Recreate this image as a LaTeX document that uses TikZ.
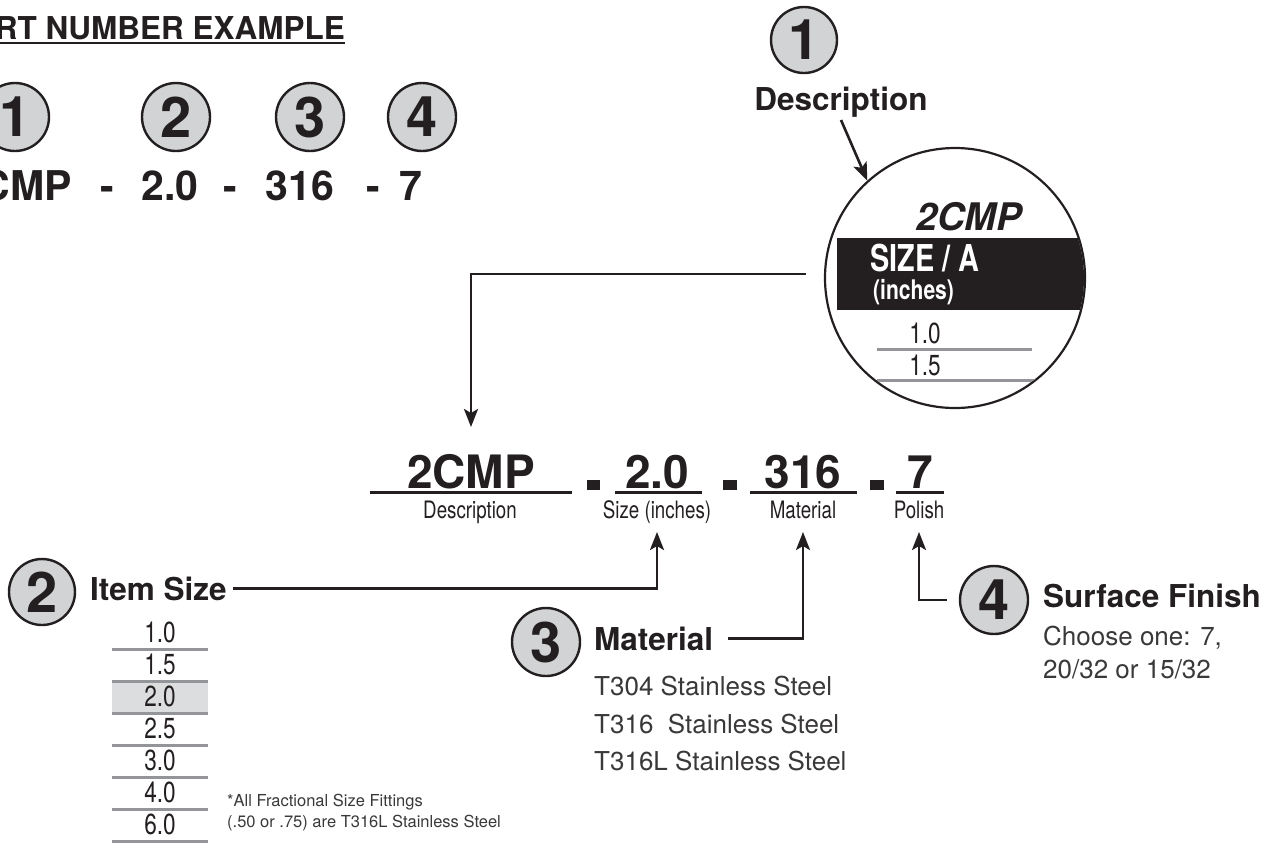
\documentclass[tikz,border=0pt]{standalone}
\usepackage{fontspec}
\setmainfont{TeX Gyre Heros}
\newfontfamily\condfont[FakeStretch=0.78]{TeX Gyre Heros}
\usetikzlibrary{arrows.meta}

\definecolor{ink}{HTML}{231F20}
\definecolor{dotgray}{HTML}{D1D3D4}
\definecolor{rulegray}{HTML}{939598}
\definecolor{pickgray}{HTML}{DCDDDE}
\definecolor{softink}{HTML}{3A3839}

\tikzset{
  num/.style={circle, draw=ink, line width=2.4pt, fill=dotgray, minimum size=68pt, inner sep=0pt,
    font=\bfseries\fontsize{56}{56}\selectfont},
  lbl/.style={inner sep=0pt, font=\bfseries\fontsize{31.5}{34}\selectfont},
  code/.style={inner sep=0pt, anchor=base, font=\bfseries\fontsize{41}{44}\selectfont},
  bigcode/.style={inner sep=0pt, anchor=base, font=\bfseries\fontsize{46}{48}\selectfont},
  cond/.style={inner sep=0pt, anchor=base, font=\condfont\fontsize{24}{26}\selectfont},
  light/.style={inner sep=0pt, anchor=base west, text=softink, font=\fontsize{26}{30}\selectfont},
  conn/.style={line width=2.6pt},
  arr/.style={-{Stealth[length=18pt,width=14pt,inset=4pt]}},
  uline/.style={line width=3pt},
  grayrule/.style={draw=rulegray, line width=3pt}
}

\begin{document}
\begin{tikzpicture}[x=1pt, y=-1pt, color=ink]
\useasboundingbox (0,0) rectangle (1276,863);
\clip (0,0) rectangle (1276,863);

% heading
\node[lbl, anchor=base east] (title) at (345,39) {PART NUMBER EXAMPLE};
\draw[line width=2pt] ([yshift=-3.5pt]title.base west) -- ([yshift=-3.5pt]title.base east);

% example row
\node[num] (t1) at (15,117) {1};
\node[num] (t2) at (176,117) {2};
\node[num] (t3) at (310,117) {3};
\node[num] (t4) at (422,117) {4};
\node[code, anchor=base east] (e1) at (72,200) {2CMP};
\node[code] (h1) at (107,200) {-};
\node[code] (e2) at (170,200) {2.0};
\node[code] (h2) at (230,200) {-};
\node[code] (e3) at (300,200) {316};
\node[code] (h3) at (373,200) {-};
\node[code] (e4) at (411,200) {7};

% description
\node[num, minimum size=66pt] (d1) at (804,40) {1};
\node[lbl, anchor=base] (desc) at (841,110) {Description};
\node[circle, draw, line width=2.2pt, minimum size=260pt, inner sep=0pt] (zoom) at (955,278) {};
\draw[conn, arr] ([yshift=-10pt]desc.base) -- (zoom.132);
\begin{scope}
  \clip (955,278) circle (129pt);
  \fill[ink] (837,238) rectangle (1100,310);
  \draw[grayrule] (877,349) -- (1032,349);
  \draw[grayrule] (877,380) -- (1100,380);
\end{scope}
\node[inner sep=0pt, anchor=base east, font=\bfseries\itshape\fontsize{38}{40}\selectfont] (zcode) at (1022,230) {2CMP};
\node[inner sep=0pt, anchor=base west, text=white, font=\condfont\bfseries\fontsize{37}{40}\selectfont] (zsize) at (870,271) {SIZE / A};
\node[inner sep=0pt, anchor=base west, text=white, font=\condfont\bfseries\fontsize{27}{30}\selectfont] (zinch) at (873,299) {(inches)};
\node[cond, font=\condfont\fontsize{29}{30}\selectfont] (z1) at (925,343) {1.0};
\node[cond, font=\condfont\fontsize{29}{30}\selectfont] (z2) at (925,375) {1.5};

% part number
\node[bigcode] (pdesc) at (471,488) {2CMP};
\draw[uline] (370,492) -- (572,492);
\node[cond] (tdesc) at (470,518) {Description};
\fill (587,480) rectangle (600,490);
\node[bigcode] (psize) at (657,488) {2.0};
\draw[uline] (615,492) -- (702,492);
\node[cond] (tsize) at (657,518) {Size (inches)};
\fill (723,480) rectangle (737,490);
\node[bigcode] (pmat) at (803,488) {316};
\draw[uline] (750,492) -- (857,492);
\node[cond] (tmat) at (803,518) {Material};
\fill (870,480) rectangle (884,490);
\node[bigcode] (ppol) at (920,488) {7};
\draw[uline] (896,492) -- (944,492);
\node[cond] (tpol) at (919,518) {Polish};

\draw[conn, arr] ([shift={(-18pt,4pt)}]zoom.west) -| ([yshift=61pt]pdesc.base);

% item size
\node[num, minimum size=66pt] (c2) at (42,592) {2};
\node[lbl, anchor=base west] (item) at (90,600) {Item Size};
\fill[pickgray] (112,681) rectangle (208,713);
\foreach \v [count=\i] in {1.0,1.5,2.0,2.5,3.0,4.0,6.0} {
  \node[cond, font=\condfont\fontsize{29}{30}\selectfont] (sz\i) at (160,642+32*\i-32) {\v};
  \draw[grayrule] (112,649+32*\i-32) -- (208,649+32*\i-32);
}
\node[inner sep=0pt, anchor=base west, text=softink, font=\fontsize{16.5}{21}\selectfont, align=left] (note) at (227,827)
  {*All Fractional Size Fittings\\(.50 or .75) are T316L Stainless Steel};
\draw[conn, arr] ([xshift=6pt]item.east) -| ([yshift=-14pt]tsize.base);

% material
\node[num] (c3) at (546,642) {3};
\node[lbl, anchor=base west] (mat) at (594,650) {Material};
\node[light] (m1) at (594,695) {T304 Stainless Steel};
\node[light] (m2) at (594,733) {T316\ \ Stainless Steel};
\node[light] (m3) at (594,770) {T316L Stainless Steel};
\draw[conn, arr] ([xshift=15pt]mat.east) -| ([yshift=-14pt]tmat.base);

% surface finish
\node[num] (c4) at (994,600) {4};
\node[lbl, anchor=base west] (surf) at (1043,607) {Surface Finish};
\node[light] (s1) at (1043,645) {Choose one: 7,};
\node[light] (s2) at (1043,678) {20/32 or 15/32};
\draw[conn, arr] ([xshift=-12pt]c4.west) -| ([yshift=-14pt]tpol.base);
\end{tikzpicture}
\end{document}
